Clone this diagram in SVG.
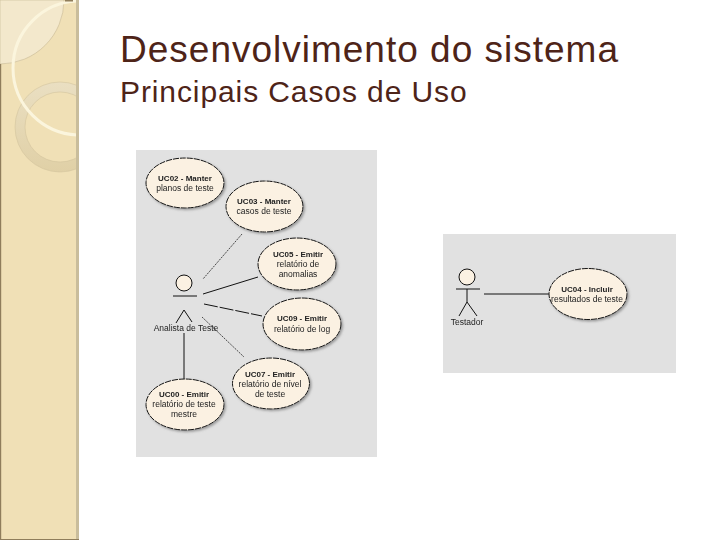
<svg xmlns="http://www.w3.org/2000/svg" width="720" height="540" viewBox="0 0 720 540">
<style>
.t{font-family:"Liberation Sans",Arial,sans-serif;fill:#4e2418}
.p{fill:#e1e1e1}
.u{fill:#fbf1e2;stroke:#111;stroke-width:1;stroke-dasharray:6 1}
.l{font-family:"Liberation Sans",Arial,sans-serif;font-size:8.5px;fill:#222;text-anchor:middle;filter:url(#b)}
.b{font-weight:bold;font-size:8px}
.c{stroke:#111;fill:none;stroke-width:1}
.d{stroke:#222;fill:none;stroke-width:.8;stroke-dasharray:2 1}
</style>
<defs>
<filter id="s" x="-10%" y="-10%" width="125%" height="125%"><feDropShadow dx="1.500" dy="1.500" stdDeviation="1" flood-color="#777" flood-opacity=".7"/></filter>
<filter id="b"><feGaussianBlur stdDeviation=".25"/></filter>
<clipPath id="side"><rect width="76.500" height="540"/></clipPath>
<linearGradient id="ring" x1="0" y1="0" x2="0" y2="1"><stop offset="0" stop-color="#eadfc2"/><stop offset="1" stop-color="#e0d0a6"/></linearGradient>
</defs>
<rect width="720" height="540" fill="#fff"/>
<g id="sidebar">
<rect width="79" height="540" fill="#f0e0b6"/>
<g clip-path="url(#side)">
<path d="M0 0H64A64 64 0 0 1 0 64Z" fill="#f3e8cc" stroke="#c8b893" stroke-width=".6"/>
<path d="M15 127A45 45 0 1 1 105 127A45 45 0 1 1 15 127ZM25 127A35 35 0 1 0 95 127A35 35 0 1 0 25 127Z" fill="url(#ring)" stroke="#d3c49d" stroke-width=".6"/>
<circle cx="80" cy="68" r="67" fill="none" stroke="#fbf5dd" stroke-width="3"/>
</g>
<rect x="76" width="3" height="540" fill="#c9bd9c"/>
<rect y="64" width="1.200" height="476" fill="#8f7d5b"/>
<rect y="539" width="79" height="1" fill="#8f7d5b"/>
<rect x="65" width="8" height="1.500" fill="#8f7d5b"/>
</g>
<g id="title">
<text class="t" x="120" y="62" font-size="37" letter-spacing="1">Desenvolvimento do sistema</text>
<text class="t" x="120" y="102" font-size="30" letter-spacing=".9">Principais Casos de Uso</text>
</g>
<g id="panels">
<rect class="p" x="136" y="150" width="241" height="307"/>
<rect class="p" x="443" y="234" width="233" height="139"/>
</g>
<g id="connectors">
<path class="d" d="M242 234 203 279"/>
<path class="c" d="M258 277 203 294"/>
<path class="c" stroke-dasharray="14 2" d="M204 304 262 316"/>
<path class="d" d="M202 317 244 357"/>
<path class="c" d="M184 333V379" stroke-width="1.200"/>
<path class="c" d="M484 294H549"/>
</g>
<g id="actor-analista">
<circle cx="184" cy="283" r="8" fill="#fbf1e2" stroke="#111"/>
<path class="c" d="M173 296H197M184 310 176 323M184 310 192 322"/>
<text class="l" x="186" y="331">Analista de Teste</text>
</g>
<g id="actor-testador">
<circle cx="467" cy="277" r="8" fill="#fbf1e2" stroke="#111"/>
<path class="c" d="M456 289H480M467 289V302L459 316M467 302 477 316"/>
<text class="l" x="467" y="325">Testador</text>
</g>
<g id="uc02"><ellipse class="u" filter="url(#s)" cx="185" cy="183" rx="39" ry="25"/>
<text class="l b" x="185" y="181">UC02 - Manter</text><text class="l" x="185" y="191">planos de teste</text></g>
<g id="uc03"><ellipse class="u" filter="url(#s)" cx="264.500" cy="206.500" rx="38.500" ry="25.500"/>
<text class="l b" x="264" y="204">UC03 - Manter</text><text class="l" x="264" y="214">casos de teste</text></g>
<g id="uc05"><ellipse class="u" filter="url(#s)" cx="297" cy="264" rx="39" ry="26"/>
<text class="l b" x="298" y="257">UC05 - Emitir</text><text class="l" x="298" y="267">relatório de</text><text class="l" x="298" y="277">anomalias</text></g>
<g id="uc09"><ellipse class="u" filter="url(#s)" cx="302" cy="324" rx="39" ry="26"/>
<text class="l b" x="302" y="321">UC09 - Emitir</text><text class="l" x="302" y="332">relatório de log</text></g>
<g id="uc07"><ellipse class="u" filter="url(#s)" cx="271" cy="383.500" rx="38.500" ry="25.500"/>
<text class="l b" x="270" y="377">UC07 - Emitir</text><text class="l" x="270" y="387">relatório de nível</text><text class="l" x="270" y="397">de teste</text></g>
<g id="uc00"><ellipse class="u" filter="url(#s)" cx="185" cy="404.500" rx="39" ry="25.500"/>
<text class="l b" x="184" y="397">UC00 - Emitir</text><text class="l" x="184" y="407">relatório de teste</text><text class="l" x="184" y="417">mestre</text></g>
<g id="uc04"><ellipse class="u" filter="url(#s)" cx="588" cy="294" rx="39" ry="25.500"/>
<text class="l b" x="587" y="292">UC04 - Incluir</text><text class="l" x="587" y="302">resultados de teste</text></g>
</svg>
